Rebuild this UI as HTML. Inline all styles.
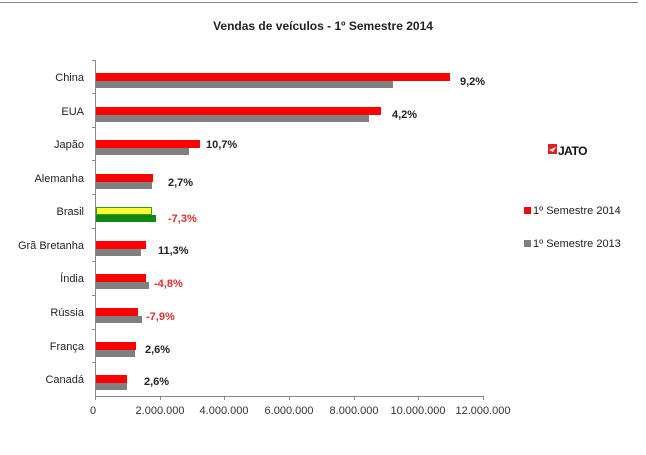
<!DOCTYPE html>
<html><head><meta charset="utf-8"><style>
body{margin:0;background:#fff;}
svg text{font-family:"Liberation Sans",sans-serif;}
</style></head><body>
<svg width="646" height="450" viewBox="0 0 646 450" xmlns="http://www.w3.org/2000/svg">
<rect width="646" height="450" fill="#fff"/>
<line x1="0" y1="2.5" x2="638" y2="2.5" stroke="#888" stroke-width="1"/>
<text x="323" y="30" font-size="12" font-weight="bold" text-anchor="middle" fill="#222">Vendas de veículos -   1º Semestre  2014</text>
<g fill="#ff0000">
<rect x="96" y="73" width="354" height="8"/>
<rect x="96" y="107" width="285" height="8"/>
<rect x="96" y="140" width="104" height="8"/>
<rect x="96" y="174" width="57" height="8"/>
<rect x="96" y="241" width="50" height="8"/>
<rect x="96" y="274" width="50" height="8"/>
<rect x="96" y="308" width="42" height="8"/>
<rect x="96" y="342" width="40" height="8"/>
<rect x="96" y="375" width="31" height="8"/>
</g>
<g fill="#808080">
<rect x="96" y="81" width="297" height="7"/>
<rect x="96" y="115" width="273" height="7"/>
<rect x="96" y="148" width="93" height="7"/>
<rect x="96" y="182" width="56" height="7"/>
<rect x="96" y="249" width="45" height="7"/>
<rect x="96" y="282" width="53" height="7"/>
<rect x="96" y="316" width="46" height="7"/>
<rect x="96" y="350" width="39" height="7"/>
<rect x="96" y="383" width="31" height="7"/>
</g>
<rect x="96.5" y="207.5" width="55" height="7" fill="#ffff33" stroke="#3a9a1a"/>
<rect x="96" y="215" width="60" height="7" fill="#118811"/>
<line x1="95.5" y1="60" x2="95.5" y2="396" stroke="#888"/>
<line x1="95" y1="396.5" x2="483" y2="396.5" stroke="#888"/>
<g stroke="#888">
<line x1="92" y1="60.5" x2="96" y2="60.5"/><line x1="92" y1="93.5" x2="96" y2="93.5"/><line x1="92" y1="127.5" x2="96" y2="127.5"/><line x1="92" y1="160.5" x2="96" y2="160.5"/><line x1="92" y1="194.5" x2="96" y2="194.5"/><line x1="92" y1="228.5" x2="96" y2="228.5"/><line x1="92" y1="261.5" x2="96" y2="261.5"/><line x1="92" y1="295.5" x2="96" y2="295.5"/><line x1="92" y1="329.5" x2="96" y2="329.5"/><line x1="92" y1="362.5" x2="96" y2="362.5"/>
<line x1="95.5" y1="396" x2="95.5" y2="400"/><line x1="160.5" y1="396" x2="160.5" y2="400"/><line x1="224.5" y1="396" x2="224.5" y2="400"/><line x1="289.5" y1="396" x2="289.5" y2="400"/><line x1="354.5" y1="396" x2="354.5" y2="400"/><line x1="418.5" y1="396" x2="418.5" y2="400"/><line x1="483.5" y1="396" x2="483.5" y2="400"/>
</g>
<g font-size="11" fill="#222" text-anchor="end">
<text x="84" y="81">China</text><text x="84" y="115">EUA</text><text x="84" y="148">Japão</text><text x="84" y="182">Alemanha</text><text x="84" y="215">Brasil</text><text x="84" y="249">Grã Bretanha</text><text x="84" y="282">Índia</text><text x="84" y="316">Rússia</text><text x="84" y="350">França</text><text x="84" y="383">Canadá</text>
</g>
<g font-size="11" font-weight="bold" fill="#222">
<text x="460" y="85">9,2%</text><text x="392" y="118">4,2%</text><text x="206" y="148">10,7%</text><text x="168" y="186">2,7%</text>
<text x="168" y="222" fill="#e03030">-7,3%</text><text x="158" y="254">11,3%</text><text x="154" y="287" fill="#e03030">-4,8%</text><text x="146" y="320" fill="#e03030">-7,9%</text><text x="145" y="353">2,6%</text><text x="144" y="385">2,6%</text>
</g>
<g font-size="11" fill="#333" text-anchor="middle">
<text x="93" y="414">0</text><text x="160" y="414">2.000.000</text><text x="224" y="414">4.000.000</text><text x="289" y="414">6.000.000</text><text x="354" y="414">8.000.000</text><text x="418" y="414">10.000.000</text><text x="483" y="414">12.000.000</text>
</g>
<rect x="548" y="144" width="9" height="10" fill="#e02020"/>
<path d="M549 150 L556 147 L553 152 Z" fill="#fff"/>
<text x="558" y="155" font-size="12" font-weight="bold" fill="#111" letter-spacing="-0.5">JATO</text>
<rect x="524" y="207" width="7" height="7" fill="#ff0000"/>
<text x="533" y="214" font-size="11" fill="#222">1º Semestre 2014</text>
<rect x="524" y="240" width="7" height="7" fill="#808080"/>
<text x="533" y="247" font-size="11" fill="#222">1º Semestre 2013</text>
</svg>
</body></html>
